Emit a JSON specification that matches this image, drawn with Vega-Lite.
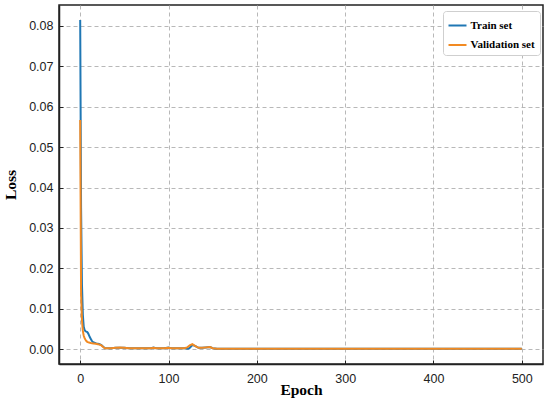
{
  "$schema": "https://vega.github.io/schema/vega-lite/v6.json",
  "width": 484,
  "height": 359,
  "autosize": {"type": "none"},
  "padding": {"left": 59, "top": 5, "right": 7, "bottom": 40},
  "background": "white",
  "config": {
    "view": {"stroke": "#222222", "strokeWidth": 1.5},
    "axis": {
      "labelFont": "Liberation Sans",
      "labelFontSize": 12.5,
      "labelColor": "#222222",
      "titleFont": "Liberation Serif",
      "titleFontSize": 15.5,
      "titleFontWeight": "bold",
      "titleColor": "#000000",
      "domainColor": "#222222",
      "domainWidth": 1.5,
      "tickColor": "#222222",
      "tickSize": -4,
      "tickWidth": 1,
      "gridColor": "#b0b0b0",
      "gridDash": [4, 3],
      "gridWidth": 0.9
    }
  },
  "datasets": {
    "loss": [
      {"epoch": 0, "loss": 0.0815, "set": "Train set"},
      {"epoch": 1, "loss": 0.035, "set": "Train set"},
      {"epoch": 2, "loss": 0.016, "set": "Train set"},
      {"epoch": 3, "loss": 0.0085, "set": "Train set"},
      {"epoch": 4, "loss": 0.0055, "set": "Train set"},
      {"epoch": 5, "loss": 0.0047, "set": "Train set"},
      {"epoch": 6, "loss": 0.0044, "set": "Train set"},
      {"epoch": 7, "loss": 0.0043, "set": "Train set"},
      {"epoch": 8, "loss": 0.0042, "set": "Train set"},
      {"epoch": 9, "loss": 0.0039, "set": "Train set"},
      {"epoch": 10, "loss": 0.0034, "set": "Train set"},
      {"epoch": 11, "loss": 0.0029, "set": "Train set"},
      {"epoch": 12, "loss": 0.0025, "set": "Train set"},
      {"epoch": 13, "loss": 0.0021, "set": "Train set"},
      {"epoch": 14, "loss": 0.0018, "set": "Train set"},
      {"epoch": 16, "loss": 0.0016, "set": "Train set"},
      {"epoch": 18, "loss": 0.0014, "set": "Train set"},
      {"epoch": 20, "loss": 0.0013, "set": "Train set"},
      {"epoch": 22, "loss": 0.0012, "set": "Train set"},
      {"epoch": 24, "loss": 0.001, "set": "Train set"},
      {"epoch": 26, "loss": 0.0006, "set": "Train set"},
      {"epoch": 28, "loss": 0.0002, "set": "Train set"},
      {"epoch": 30, "loss": 0.0002, "set": "Train set"},
      {"epoch": 35, "loss": 0.0002, "set": "Train set"},
      {"epoch": 40, "loss": 0.0003, "set": "Train set"},
      {"epoch": 45, "loss": 0.0003, "set": "Train set"},
      {"epoch": 50, "loss": 0.0003, "set": "Train set"},
      {"epoch": 55, "loss": 0.0002, "set": "Train set"},
      {"epoch": 60, "loss": 0.0002, "set": "Train set"},
      {"epoch": 70, "loss": 0.0002, "set": "Train set"},
      {"epoch": 80, "loss": 0.0002, "set": "Train set"},
      {"epoch": 83, "loss": 0.0004, "set": "Train set"},
      {"epoch": 86, "loss": 0.0002, "set": "Train set"},
      {"epoch": 95, "loss": 0.0002, "set": "Train set"},
      {"epoch": 100, "loss": 0.0004, "set": "Train set"},
      {"epoch": 103, "loss": 0.0002, "set": "Train set"},
      {"epoch": 110, "loss": 0.0002, "set": "Train set"},
      {"epoch": 118, "loss": 0.0002, "set": "Train set"},
      {"epoch": 122, "loss": 0.0001, "set": "Train set"},
      {"epoch": 124, "loss": 0.0003, "set": "Train set"},
      {"epoch": 127, "loss": 0.001, "set": "Train set"},
      {"epoch": 130, "loss": 0.0008, "set": "Train set"},
      {"epoch": 134, "loss": 0.0003, "set": "Train set"},
      {"epoch": 138, "loss": 0.0003, "set": "Train set"},
      {"epoch": 142, "loss": 0.0004, "set": "Train set"},
      {"epoch": 147, "loss": 0.0005, "set": "Train set"},
      {"epoch": 150, "loss": 0.0002, "set": "Train set"},
      {"epoch": 155, "loss": 0.0001, "set": "Train set"},
      {"epoch": 200, "loss": 0.0001, "set": "Train set"},
      {"epoch": 250, "loss": 0.0001, "set": "Train set"},
      {"epoch": 300, "loss": 0.0001, "set": "Train set"},
      {"epoch": 350, "loss": 0.0001, "set": "Train set"},
      {"epoch": 400, "loss": 0.0001, "set": "Train set"},
      {"epoch": 450, "loss": 0.0001, "set": "Train set"},
      {"epoch": 500, "loss": 0.0001, "set": "Train set"},
      {"epoch": 0, "loss": 0.0567, "set": "Validation set"},
      {"epoch": 1, "loss": 0.014, "set": "Validation set"},
      {"epoch": 2, "loss": 0.0072, "set": "Validation set"},
      {"epoch": 3, "loss": 0.0045, "set": "Validation set"},
      {"epoch": 4, "loss": 0.0033, "set": "Validation set"},
      {"epoch": 5, "loss": 0.0027, "set": "Validation set"},
      {"epoch": 6, "loss": 0.0023, "set": "Validation set"},
      {"epoch": 7, "loss": 0.002, "set": "Validation set"},
      {"epoch": 8, "loss": 0.0018, "set": "Validation set"},
      {"epoch": 10, "loss": 0.0016, "set": "Validation set"},
      {"epoch": 12, "loss": 0.0015, "set": "Validation set"},
      {"epoch": 15, "loss": 0.0014, "set": "Validation set"},
      {"epoch": 18, "loss": 0.0013, "set": "Validation set"},
      {"epoch": 20, "loss": 0.0012, "set": "Validation set"},
      {"epoch": 22, "loss": 0.0011, "set": "Validation set"},
      {"epoch": 24, "loss": 0.0009, "set": "Validation set"},
      {"epoch": 26, "loss": 0.0005, "set": "Validation set"},
      {"epoch": 28, "loss": 0.0002, "set": "Validation set"},
      {"epoch": 30, "loss": 0.0002, "set": "Validation set"},
      {"epoch": 35, "loss": 0.0002, "set": "Validation set"},
      {"epoch": 40, "loss": 0.0003, "set": "Validation set"},
      {"epoch": 45, "loss": 0.0004, "set": "Validation set"},
      {"epoch": 50, "loss": 0.0003, "set": "Validation set"},
      {"epoch": 55, "loss": 0.0002, "set": "Validation set"},
      {"epoch": 60, "loss": 0.0002, "set": "Validation set"},
      {"epoch": 70, "loss": 0.0002, "set": "Validation set"},
      {"epoch": 80, "loss": 0.0002, "set": "Validation set"},
      {"epoch": 83, "loss": 0.0003, "set": "Validation set"},
      {"epoch": 86, "loss": 0.0002, "set": "Validation set"},
      {"epoch": 95, "loss": 0.0002, "set": "Validation set"},
      {"epoch": 100, "loss": 0.0003, "set": "Validation set"},
      {"epoch": 103, "loss": 0.0002, "set": "Validation set"},
      {"epoch": 110, "loss": 0.0002, "set": "Validation set"},
      {"epoch": 118, "loss": 0.0002, "set": "Validation set"},
      {"epoch": 121, "loss": 0.0004, "set": "Validation set"},
      {"epoch": 124, "loss": 0.0009, "set": "Validation set"},
      {"epoch": 127, "loss": 0.0012, "set": "Validation set"},
      {"epoch": 130, "loss": 0.0008, "set": "Validation set"},
      {"epoch": 134, "loss": 0.0003, "set": "Validation set"},
      {"epoch": 138, "loss": 0.0003, "set": "Validation set"},
      {"epoch": 142, "loss": 0.0004, "set": "Validation set"},
      {"epoch": 147, "loss": 0.0005, "set": "Validation set"},
      {"epoch": 150, "loss": 0.0002, "set": "Validation set"},
      {"epoch": 155, "loss": 0.0001, "set": "Validation set"},
      {"epoch": 200, "loss": 0.0001, "set": "Validation set"},
      {"epoch": 250, "loss": 0.0001, "set": "Validation set"},
      {"epoch": 300, "loss": 0.0001, "set": "Validation set"},
      {"epoch": 350, "loss": 0.0001, "set": "Validation set"},
      {"epoch": 400, "loss": 0.0001, "set": "Validation set"},
      {"epoch": 450, "loss": 0.0001, "set": "Validation set"},
      {"epoch": 500, "loss": 0.0001, "set": "Validation set"}
    ]
  },
  "data": {"name": "loss"},
  "mark": {"type": "line", "strokeWidth": 2, "clip": true},
  "encoding": {
    "x": {
      "field": "epoch",
      "type": "quantitative",
      "scale": {"domain": [-24, 524], "nice": false, "zero": false},
      "axis": {
        "title": "Epoch",
        "values": [0, 100, 200, 300, 400, 500],
        "labelPadding": 12,
        "titlePadding": -2
      }
    },
    "y": {
      "field": "loss",
      "type": "quantitative",
      "scale": {"domain": [-0.0037, 0.0852], "nice": false, "zero": false},
      "axis": {
        "title": "Loss",
        "values": [0, 0.01, 0.02, 0.03, 0.04, 0.05, 0.06, 0.07, 0.08],
        "format": ".2f",
        "labelPadding": 10,
        "titlePadding": 10
      }
    },
    "color": {
      "field": "set",
      "type": "nominal",
      "scale": {"domain": ["Train set", "Validation set"], "range": ["#1f77b4", "#f28a22"]},
      "legend": {
        "title": null,
        "orient": "none",
        "legendX": 384,
        "legendY": 6,
        "padding": 4.5,
        "fillColor": "white",
        "strokeColor": "#cfcfcf",
        "cornerRadius": 3,
        "symbolType": "stroke",
        "symbolSize": 324,
        "symbolStrokeWidth": 2,
        "labelFont": "Liberation Serif",
        "labelFontWeight": "bold",
        "labelFontSize": 11,
        "labelColor": "#000000",
        "labelOffset": 3,
        "rowPadding": 4.5
      }
    }
  }
}
